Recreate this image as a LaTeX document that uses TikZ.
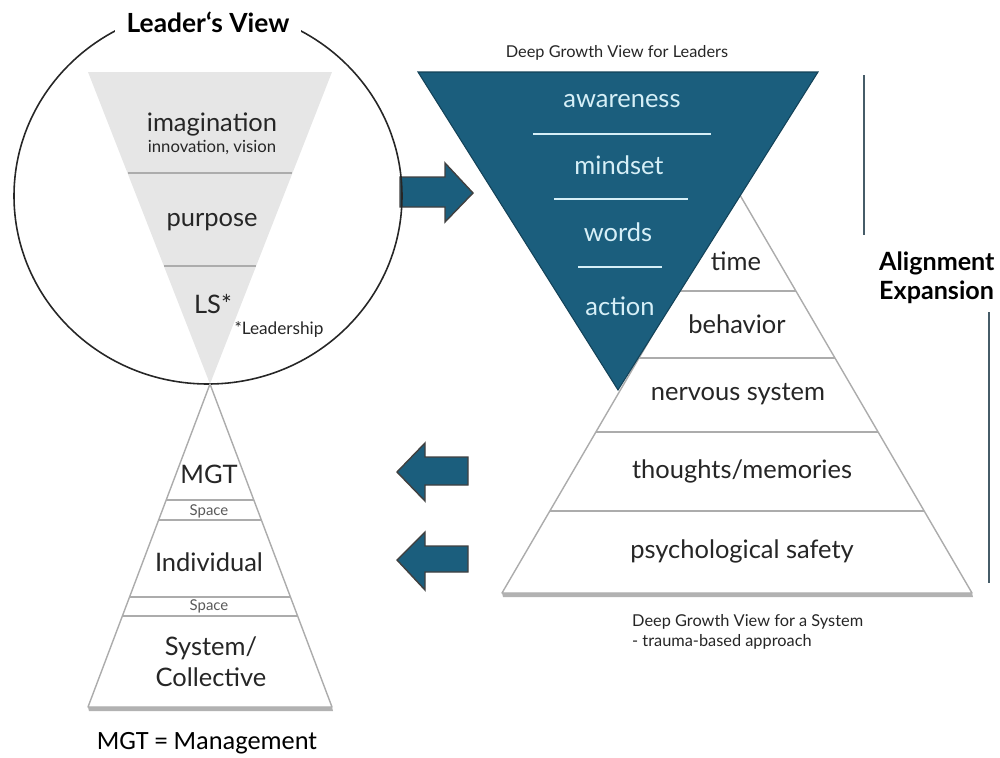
\documentclass[tikz,border=0pt]{standalone}
\usepackage{fontspec}
\setmainfont{Lato}
\newfontfamily\calibrifont{Carlito}
\usepackage{tikz}

\begin{document}
\begin{tikzpicture}[x=0.2mm,y=-0.2mm,
  lbl/.style={text=labelgrey,font=\fontsize{14.5}{17.5}\selectfont},
  onblue/.style={text=paleblue,font=\fontsize{14.5}{17.5}\selectfont},
  note/.style={text=labelgrey,font=\fontsize{9.3}{11.5}\selectfont},
  tiny/.style={text=black!65,font=\fontsize{8.5}{9}\selectfont},
  rule/.style={rulegrey,line width=0.8pt},
  blockarrow/.style={fill=deepblue,draw=black!75,line width=0.8pt,line join=miter}]
% Define colors
\definecolor{deepblue}{RGB}{27,94,125}
\definecolor{paleblue}{RGB}{214,239,247}
\definecolor{conegrey}{RGB}{230,230,230}
\definecolor{rulegrey}{RGB}{172,172,172}
\definecolor{labelgrey}{RGB}{38,38,38}
\definecolor{sidebar}{RGB}{70,92,104}

\useasboundingbox (0,0) rectangle (1000,757);

% Leader's view: grey cone
\fill[conegrey] (88,72) -- (332,72) -- (210,384) -- cycle;
\draw[rule] (128,173) -- (292,173);
\draw[rule] (164,266) -- (256,266);
\node[lbl] (imag) at (212,124) {imagination};
\node[note,font=\fontsize{9.5}{11.5}\selectfont] (innov) at (212,148) {innovation, vision};
\node[lbl] (purp) at (212,222) {purpose};
\node[lbl] (ls) at (213,304) {LS*};
\node[note,font=\fontsize{9.8}{11.5}\selectfont] (lsnote) at (279,329) {*Leadership};

% Arrow out of the circle
\draw[blockarrow] (400,177) -- (445,177) -- (445,163) -- (473,193) -- (445,222) -- (445,207) -- (400,207) -- cycle;

% Circle round the cone, with its title
\draw[black!85,line width=0.9pt] (208,196) ellipse [x radius=194, y radius=188];
\node[fill=white,inner xsep=2.3mm,inner ysep=1.2mm,font=\fontsize{15}{18}\selectfont\bfseries] (lview) at (208,22) {Leader‘s View};

% Lower pyramid
\fill[black!30] (88,707) -- (332,707) -- (333,711) -- (89,711) -- cycle;
\draw[rule,fill=white,line join=round] (210,384) -- (332,707) -- (88,707) -- cycle;
\foreach \y in {500,520,597,616}
  \draw[rule] ({210-122/323*(\y-384)},\y) -- ({210+122/323*(\y-384)},\y);
\node[lbl] (mgt) at (209,474) {MGT};
\node[tiny] (spone) at (209,511) {Space};
\node[lbl] (indiv) at (209,562) {Individual};
\node[tiny] (sptwo) at (209,606) {Space};
\node[lbl,align=center] (syst) at (211,662) {System/\\Collective};
\node[font=\calibrifont\fontsize{15}{18}\selectfont] (mgtkey) at (207,743) {MGT = Management};

% Arrows back to the lower pyramid
\draw[blockarrow] (468,457) -- (425,457) -- (425,443) -- (397,472) -- (425,501) -- (425,485) -- (468,485) -- cycle;
\draw[blockarrow] (468,546) -- (425,546) -- (425,532) -- (397,560) -- (425,590) -- (425,572) -- (468,572) -- cycle;

% System pyramid
\fill[black!30] (502,593) -- (972,593) -- (973,597) -- (503,597) -- cycle;
\draw[rule,fill=white,line join=round] (737,190) -- (972,593) -- (502,593) -- cycle;
\foreach \y in {291,358,432,511}
  \draw[rule] ({737-235/403*(\y-190)},\y) -- ({737+235/403*(\y-190)},\y);
\node[lbl] (time) at (736,261) {time};
\node[lbl] (behav) at (737,324) {behavior};
\node[lbl] (nerv) at (738,394) {nervous system};
\node[lbl] (thought) at (742,471) {thoughts/memories};
\node[lbl] (psych) at (742,551) {psychological safety};
\node[note,align=left,anchor=north west] (sysview) at (626,608) {Deep Growth View for a System\\- trauma-based approach};

% Leaders' growth cone
\draw[fill=deepblue,draw=deepblue!70!black,line width=0.6pt] (418,72) -- (818,72) -- (618,390) -- cycle;
\draw[paleblue,line width=0.8pt] (533,134) -- (711,134);
\draw[paleblue,line width=0.8pt] (554,199) -- (688,199);
\draw[paleblue,line width=0.8pt] (578,267) -- (662,267);
\node[onblue] (aware) at (622,101) {awareness};
\node[onblue] (mind) at (619,165) {mindset};
\node[onblue] (words) at (618,232) {words};
\node[onblue] (action) at (620,306) {action};
\node[note] (leadview) at (617,53) {Deep Growth View for Leaders};

% Side bars
\draw[sidebar,line width=1.2pt] (864,75) -- (864,235);
\draw[sidebar,line width=1.2pt] (989,312) -- (989,583);
\node[anchor=west,align=left,font=\fontsize{14.3}{16.5}\selectfont\bfseries] (align) at (873,278) {Alignment\\Expansion};

\end{tikzpicture}
\end{document}
